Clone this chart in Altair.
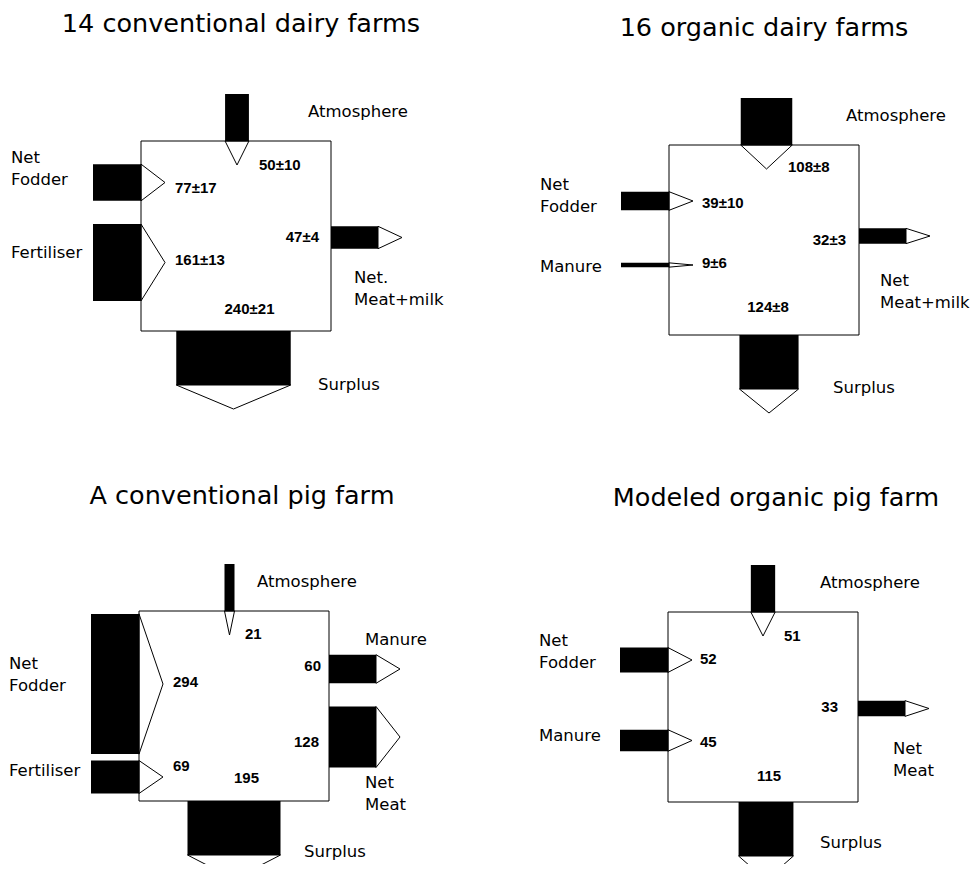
import altair as alt
import pandas as pd

# ---------------- data ----------------
titles = ["14 conventional dairy farms", "16 organic dairy farms",
          "A conventional pig farm", "Modeled organic pig farm"]

flow_panel = [0, 0, 0, 0, 0,
              1, 1, 1, 1, 1,
              2, 2, 2, 2, 2, 2,
              3, 3, 3, 3, 3]
flow_side = ["top", "left", "left", "right", "bottom",
             "top", "left", "left", "right", "bottom",
             "top", "left", "left", "right", "right", "bottom",
             "top", "left", "left", "right", "bottom"]
flow_label = ["Atmosphere", "Net\nFodder", "Fertiliser", "Net.\nMeat+milk", "Surplus",
              "Atmosphere", "Net\nFodder", "Manure", "Net\nMeat+milk", "Surplus",
              "Atmosphere", "Net\nFodder", "Fertiliser", "Manure", "Net\nMeat", "Surplus",
              "Atmosphere", "Net\nFodder", "Manure", "Net\nMeat", "Surplus"]
flow_value = [50, 77, 161, 47, 240,
              108, 39, 9, 32, 124,
              21, 294, 69, 60, 128, 195,
              51, 52, 45, 33, 115]
flow_sd = [10, 17, 13, 4, 21,
           8, 10, 6, 3, 8,
           None, None, None, None, None, None,
           None, None, None, None, None]

# ---------------- layout (pixels) ----------------
box_origin = [(145, 139), (673, 143), (143, 609), (672, 610)]
title_pos = [(245, 22), (768, 26), (246, 493.5), (780, 495.5)]
flow_pos = [96, 41.5, 121.5, 96.5, 92.5,
            97.5, 56, 120, 91, 100,
            90.5, 73, 166, 58, 126, 95,
            95, 48, 128.5, 96.5, 98]
label_off = [(167, -29), (-130, 16.5), (-130, 112), (213, 137), (177, 243.5),
             (177, -29.5), (-129, 39.5), (-129, 122), (211, 135.5), (164, 242.5),
             (118, -29.5), (-130, 53), (-130, 159.5), (226, 28.5), (226, 172), (165, 241),
             (152, -29), (-129, 28.5), (-129, 123.5), (225, 136.5), (152, 231)]
value_off = [(118, 23.5, "left"), (34, 47, "left"), (34, 119, "left"), (178, 96, "right"), (108.5, 168, "center"),
             (119, 22, "left"), (33, 58, "left"), (33, 118, "left"), (177, 94.5, "right"), (99, 162, "center"),
             (106, 23, "left"), (34, 71, "left"), (34, 154.5, "left"), (182, 54.5, "right"), (180, 130.5, "right"), (107.5, 167, "center"),
             (116, 23.5, "left"), (32, 47, "left"), (32, 130, "left"), (170, 94.5, "right"), (101, 163.5, "center")]

K = 0.477          # px per unit of flow
BOX = 190
SHAFT = 47
SHAFT_IN = 48
SHAFT_BOTTOM = 54
HEAD = 24
LINE_GAP = 22

boxes, rects, tris, labels, values = [], [], [], [], []
for p, (bx, by) in enumerate(box_origin):
    boxes.append({"x": bx, "x2": bx + BOX, "y": by, "y2": by + BOX})

for i in range(len(flow_value)):
    p = flow_panel[i]
    bx, by = box_origin[p]
    w = flow_value[i] * K / 2
    c = flow_pos[i]
    side = flow_side[i]
    if side == "left":
        r = (bx - SHAFT_IN, bx, by + c - w, by + c + w)
        pts = [(bx, by + c - w), (bx + HEAD, by + c), (bx, by + c + w)]
    elif side == "top":
        r = (bx + c - w, bx + c + w, by - SHAFT, by)
        pts = [(bx + c - w, by), (bx + c, by + HEAD), (bx + c + w, by)]
    elif side == "right":
        e = bx + BOX
        r = (e, e + SHAFT, by + c - w, by + c + w)
        pts = [(e + SHAFT, by + c - w), (e + SHAFT + HEAD, by + c), (e + SHAFT, by + c + w)]
    else:
        e = by + BOX
        r = (bx + c - w, bx + c + w, e, e + SHAFT_BOTTOM)
        pts = [(bx + c - w, e + SHAFT_BOTTOM), (bx + c, e + SHAFT_BOTTOM + HEAD),
               (bx + c + w, e + SHAFT_BOTTOM)]
    rects.append({"x": r[0], "x2": r[1], "y": r[2], "y2": r[3], "flow": flow_label[i], "value": flow_value[i]})
    pts.append(pts[0])
    for k, (px, py) in enumerate(pts):
        tris.append({"id": i, "k": k, "x": px, "y": py})
    dx, dy = label_off[i]
    for j, line in enumerate(flow_label[i].split("\n")):
        labels.append({"x": bx + dx, "y": by + dy + j * LINE_GAP, "text": line})
    vx, vy, al = value_off[i]
    txt = f"{flow_value[i]}±{flow_sd[i]}" if flow_sd[i] is not None else str(flow_value[i])
    values.append({"x": bx + vx, "y": by + vy, "text": txt, "align": al})

title_df = pd.DataFrame({"x": [t[0] for t in title_pos], "y": [t[1] for t in title_pos], "text": titles})
box_df = pd.DataFrame(boxes)
rect_df = pd.DataFrame(rects)
tri_df = pd.DataFrame(tris)
label_df = pd.DataFrame(labels)
value_df = pd.DataFrame(values)

W, H = 963, 856
X0, Y0 = 12, 6
xs = alt.Scale(domain=[X0, X0 + W], nice=False, zero=False)
ys = alt.Scale(domain=[Y0, Y0 + H], nice=False, zero=False, reverse=True)
X = lambda f="x": alt.X(f"{f}:Q", scale=xs, axis=None)
Y = lambda f="y": alt.Y(f"{f}:Q", scale=ys, axis=None)

box_layer = alt.Chart(box_df).mark_rect(fill="white", stroke="black", strokeWidth=1).encode(
    x=X(), x2="x2", y=Y(), y2="y2")
rect_layer = alt.Chart(rect_df).mark_rect(color="black").encode(
    x=X(), x2="x2", y=Y(), y2="y2")
tri_layer = alt.Chart(tri_df).mark_line(color="black", strokeWidth=1, strokeJoin="miter").encode(
    x=X(), y=Y(), detail="id:N", order="k:Q")
title_layer = alt.Chart(title_df).mark_text(font="DejaVu Sans", fontSize=25.5, align="center",
                                            baseline="middle", color="black").encode(
    x=X(), y=Y(), text="text:N")
label_layer = alt.Chart(label_df).mark_text(font="DejaVu Sans", fontSize=16.5, align="left",
                                            baseline="middle", color="black").encode(
    x=X(), y=Y(), text="text:N")
value_layers = []
for al in ["left", "center", "right"]:
    sub = value_df[value_df["align"] == al]
    value_layers.append(
        alt.Chart(sub).mark_text(font="Liberation Sans", fontSize=15, fontWeight="bold", align=al,
                                 baseline="middle", color="black").encode(
            x=X(), y=Y(), text="text:N"))

chart = alt.layer(box_layer, rect_layer, tri_layer, title_layer, label_layer, *value_layers).properties(
    width=W, height=H, padding=0, autosize=alt.AutoSizeParams(type="none")
).configure_view(stroke=None)

chart.save("out.html", embed_options={"renderer": "svg", "actions": False})
